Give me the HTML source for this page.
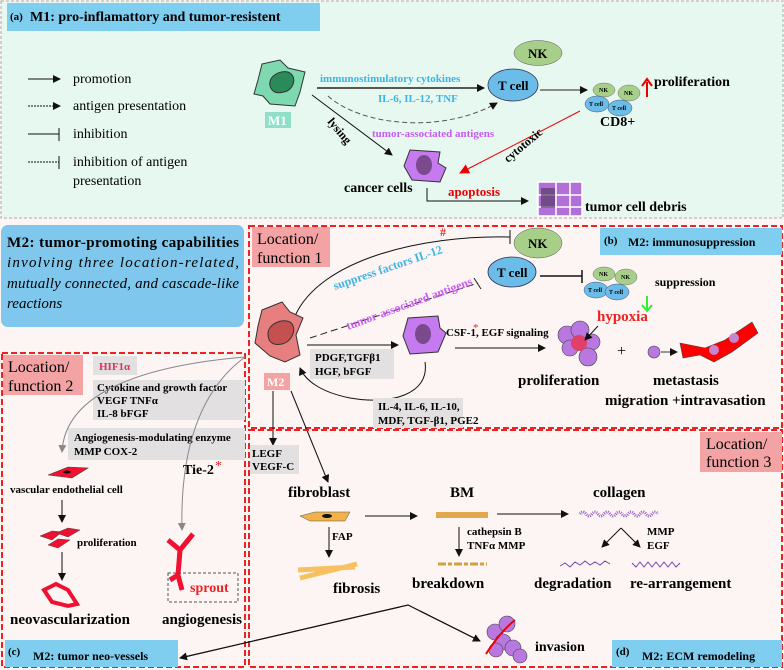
<!DOCTYPE html>
<html><head><meta charset="utf-8"><style>
body{margin:0;padding:0;background:#fdf4f4}
svg{display:block}
text{font-family:"Liberation Serif",serif}
.b{font-weight:bold}
</style></head><body>
<svg width="784" height="670" viewBox="0 0 784 670" xmlns="http://www.w3.org/2000/svg">
<defs>
<marker id="ah" markerWidth="8" markerHeight="8" refX="7" refY="4" orient="auto" markerUnits="userSpaceOnUse"><path d="M0,0 L8,4 L0,8 z" fill="#111"/></marker>
<marker id="ahr" markerWidth="10" markerHeight="10" refX="9" refY="5" orient="auto" markerUnits="userSpaceOnUse"><path d="M0,0 L10,5 L0,10 z" fill="#e00"/></marker>
<marker id="ahg" markerWidth="8" markerHeight="8" refX="7" refY="4" orient="auto" markerUnits="userSpaceOnUse"><path d="M0,0 L8,4 L0,8 z" fill="#888"/></marker>
</defs>
<rect width="784" height="670" fill="#fdf4f4"/>
<!-- Panel a -->
<rect x="1" y="1" width="782" height="217" fill="#e6f8ef" stroke="#aaa" stroke-dasharray="3,2"/>
<rect x="7" y="3" width="313" height="28" fill="#7fcdef"/>
<text x="10" y="20" font-size="11" class="b">(a)</text>
<text x="30" y="21" font-size="14" class="b">M1: pro-inflamattory and tumor-resistent</text>
<!-- legend -->
<line x1="28" y1="79" x2="60" y2="79" stroke="#111" marker-end="url(#ah)"/>
<line x1="28" y1="106" x2="60" y2="106" stroke="#111" stroke-dasharray="2,1" marker-end="url(#ah)"/>
<line x1="28" y1="134" x2="59" y2="134" stroke="#111"/><line x1="59" y1="128" x2="59" y2="141" stroke="#111"/>
<line x1="28" y1="162" x2="59" y2="162" stroke="#111" stroke-dasharray="2,1"/><line x1="59" y1="156" x2="59" y2="169" stroke="#111"/>
<g font-size="14"><text x="73" y="83">promotion</text><text x="73" y="110">antigen presentation</text><text x="73" y="138">inhibition</text><text x="73" y="166">inhibition of antigen</text><text x="73" y="185">presentation</text></g>
<!-- M1 -->
<path d="M262,64 L280,60 L288,68 L305,72 L300,92 L295,106 L270,104 L263,96 L254,94 L258,80 Z" fill="#7fd9b0" stroke="#333"/>
<path d="M270,86 C268,76 280,70 288,72 C298,76 294,90 284,92 C276,94 272,92 270,86Z" fill="#2a8a5a" stroke="#333"/>
<rect x="265" y="112" width="26" height="16" fill="#8fe0c6"/><text x="268" y="125" font-size="13" fill="#fff" class="b">M1</text>
<line x1="317" y1="88" x2="484" y2="88" stroke="#222" stroke-width="1.5" marker-end="url(#ah)"/>
<text x="320" y="82" font-size="11" class="b" fill="#3cb4e6">immunostimulatory cytokines</text>
<text x="378" y="102" font-size="11" class="b" fill="#3cb4e6">IL-6, IL-12, TNF</text>
<ellipse cx="538" cy="53" rx="24" ry="12.5" fill="#a8cf8a" stroke="#555" stroke-width=".5"/>
<text x="528" y="58" font-size="13" class="b">NK</text>
<ellipse cx="513" cy="85" rx="25" ry="16" fill="#6bbce8" stroke="#335" stroke-width=".8"/>
<text x="498" y="90" font-size="13" class="b">T cell</text>
<line x1="540" y1="90" x2="587" y2="90" stroke="#666" stroke-width="1.5" marker-end="url(#ah)"/>
<g font-size="6" class="b">
<ellipse cx="604" cy="90" rx="11" ry="7" fill="#a8cf8a" stroke="#555" stroke-width=".4"/><text x="599" y="92">NK</text>
<ellipse cx="629" cy="93" rx="11" ry="8" fill="#a8cf8a" stroke="#555" stroke-width=".4"/><text x="624" y="95">NK</text>
<ellipse cx="597" cy="104" rx="12" ry="8" fill="#6bbce8" stroke="#335" stroke-width=".4"/><text x="589" y="106">T cell</text>
<ellipse cx="620" cy="108" rx="12" ry="8" fill="#6bbce8" stroke="#335" stroke-width=".4"/><text x="612" y="110">T cell</text>
</g>
<line x1="647" y1="97" x2="647" y2="82" stroke="#e00" stroke-width="2"/><path d="M642,86 L647,79 L652,86" fill="none" stroke="#e00" stroke-width="2"/>
<text x="654" y="86" font-size="14" class="b">proliferation</text>
<text x="600" y="126" font-size="14" class="b">CD8+</text>
<path d="M328,96 C360,125 440,135 497,103" fill="none" stroke="#555" stroke-dasharray="5,3" marker-end="url(#ah)"/>
<line x1="312" y1="95" x2="392" y2="155" stroke="#111" marker-end="url(#ah)"/>
<text transform="translate(327,122) rotate(50)" font-size="12" class="b">lysing</text>
<text x="372" y="137" font-size="11" class="b" fill="#c75cf2">tumor-associated antigens</text>
<path d="M410,150 L440,152 L438,163 L446,168 L440,182 L412,180 L404,166 Z" fill="#c57af0" stroke="#333"/>
<ellipse cx="424" cy="165" rx="8" ry="10" fill="#7a4a8c"/>
<text x="344" y="192" font-size="14" class="b">cancer cells</text>
<line x1="580" y1="111" x2="460" y2="173" stroke="#e00" marker-end="url(#ahr)"/>
<text transform="translate(508,163) rotate(-40)" font-size="12" class="b">cytotoxic</text>
<text x="448" y="196" font-size="13" class="b" fill="#e00">apoptosis</text>
<polyline points="427,188 427,201 528,201" fill="none" stroke="#111" marker-end="url(#ah)"/>
<g stroke="#fff" stroke-width="1.5"><rect x="538" y="182" width="44" height="34" fill="#b070d8"/><line x1="538" y1="195" x2="582" y2="195"/><line x1="556" y1="182" x2="556" y2="216"/><line x1="570" y1="182" x2="570" y2="216"/><line x1="538" y1="207" x2="582" y2="207"/></g>
<rect x="541" y="188" width="14" height="20" fill="#5a3a6a" opacity=".7"/>
<text x="585" y="211" font-size="14" class="b">tumor cell debris</text>

<!-- M2 blue box -->
<rect x="1" y="225" width="243" height="102" rx="7" fill="#7fc7ec"/>
<text x="7" y="247" font-size="15" class="b" textLength="232">M2: tumor-promoting capabilities</text>
<g font-size="15" font-style="italic">
<text x="7" y="267" textLength="232">involving three location-related,</text>
<text x="7" y="288" textLength="232">mutually connected, and cascade-like</text>
<text x="7" y="308">reactions</text></g>

<!-- panel b -->
<rect x="249" y="226" width="533" height="202" fill="none" stroke="#e22" stroke-width="2" stroke-dasharray="6,3"/>
<rect x="252" y="227" width="78" height="40" fill="#f3a3a3"/>
<text x="257" y="244" font-size="16">Location/</text><text x="257" y="263" font-size="16">function 1</text>
<rect x="600" y="228" width="182" height="27" fill="#7fcdef"/>
<text x="604" y="244" font-size="11" class="b">(b)</text><text x="628" y="246" font-size="12" class="b">M2: immunosuppression</text>
<ellipse cx="538" cy="243" rx="24" ry="15" fill="#a8cf8a" stroke="#555" stroke-width=".5"/><text x="528" y="248" font-size="13" class="b">NK</text>
<ellipse cx="512" cy="272" rx="24" ry="15" fill="#6bbce8" stroke="#335" stroke-width=".8"/><text x="497" y="277" font-size="13" class="b">T cell</text>
<path d="M295,316 C320,260 420,235 510,237" fill="none" stroke="#111"/><line x1="510" y1="230" x2="510" y2="244" stroke="#111"/>
<text transform="translate(335,290) rotate(-19)" font-size="12" class="b" fill="#3cb4e6">suppress factors IL-12</text>
<text x="440" y="236" font-size="12" class="b" fill="#e22">#</text>
<line x1="540" y1="276" x2="582" y2="276" stroke="#111" stroke-width="1.5"/><line x1="582" y1="270" x2="582" y2="283" stroke="#111" stroke-width="1.5"/>
<g font-size="6" class="b">
<ellipse cx="604" cy="274" rx="11" ry="7" fill="#a8cf8a" stroke="#555" stroke-width=".4"/><text x="599" y="276">NK</text>
<ellipse cx="626" cy="277" rx="11" ry="8" fill="#a8cf8a" stroke="#555" stroke-width=".4"/><text x="621" y="279">NK</text>
<ellipse cx="596" cy="290" rx="12" ry="8" fill="#6bbce8" stroke="#335" stroke-width=".4"/><text x="588" y="292">T cell</text>
<ellipse cx="617" cy="292" rx="12" ry="8" fill="#6bbce8" stroke="#335" stroke-width=".4"/><text x="609" y="294">T cell</text></g>
<text x="655" y="286" font-size="12" class="b">suppression</text>
<line x1="647" y1="296" x2="647" y2="310" stroke="#3e3" stroke-width="2"/><path d="M642,305 L647,311 L652,305" fill="none" stroke="#3e3" stroke-width="2"/>
<!-- M2 cell -->
<path d="M262,310 L282,302 L290,312 L303,318 L296,335 L300,355 L285,362 L270,356 L255,343 L258,326 Z" fill="#e77f7f" stroke="#333"/>
<path d="M268,334 C268,324 282,318 290,322 C298,328 292,342 282,344 C273,346 268,342 268,334Z" fill="#c55050" stroke="#333"/>
<path d="M310,338 L478,283" fill="none" stroke="#222" stroke-dasharray="7,4"/><line x1="474" y1="278" x2="481" y2="289" stroke="#222"/>
<text transform="translate(348,330) rotate(-20)" font-size="12" class="b" fill="#c75cf2">tumor-associated antigens</text>
<line x1="307" y1="345" x2="398" y2="345" stroke="#111" marker-end="url(#ah)"/>
<rect x="310" y="349" width="84" height="30" fill="#e2e0e0"/>
<text x="315" y="361" font-size="11" class="b">PDGF,TGFβ1</text><text x="315" y="375" font-size="11" class="b">HGF, bFGF</text>
<path d="M408,318 L438,316 L440,328 L446,333 L438,352 L410,354 L403,336 Z" fill="#c57af0" stroke="#333"/>
<ellipse cx="423" cy="334" rx="8" ry="10" fill="#7a4a8c"/>
<text x="446" y="336" font-size="11" class="b">CSF-1, EGF signaling</text><text x="473" y="331" font-size="11" fill="#e22">*</text>
<line x1="455" y1="348" x2="545" y2="348" stroke="#111" marker-end="url(#ah)"/>
<g fill="#b878e0" stroke="#444" stroke-width=".6">
<circle cx="567" cy="335" r="9"/><circle cx="580" cy="330" r="9"/><circle cx="592" cy="342" r="8"/><circle cx="570" cy="348" r="8"/><circle cx="588" cy="357" r="9"/></g>
<circle cx="579" cy="343" r="8" fill="#e0406a"/>
<text x="597" y="321" font-size="15" class="b" fill="#e22">hypoxia</text>
<line x1="598" y1="326" x2="585" y2="340" stroke="#111" marker-end="url(#ah)"/>
<text x="617" y="356" font-size="16">+</text>
<circle cx="654" cy="352" r="6" fill="#b878e0" stroke="#444" stroke-width=".6"/>
<line x1="661" y1="352" x2="677" y2="352" stroke="#333" marker-end="url(#ah)"/>
<path d="M680,343 L705,348 L725,340 L752,322 L758,333 L732,352 L714,362 L700,355 L683,358 Z" fill="#f00" stroke="#444" stroke-width=".6"/>
<circle cx="714" cy="350" r="5" fill="#c884d0"/><circle cx="734" cy="338" r="5" fill="#c884d0"/>
<text x="518" y="385" font-size="15" class="b">proliferation</text>
<text x="653" y="385" font-size="15" class="b">metastasis</text>
<text x="605" y="405" font-size="15" class="b">migration +intravasation</text>
<path d="M425,362 C430,395 390,405 350,398 C320,392 305,380 300,368" fill="none" stroke="#111" marker-end="url(#ah)"/>
<rect x="373" y="398" width="90" height="30" fill="#e2e0e0"/>
<text x="378" y="410" font-size="11" class="b">IL-4, IL-6, IL-10,</text><text x="378" y="424" font-size="11" class="b">MDF, TGF-β1, PGE2</text>
<rect x="264" y="373" width="26" height="17" fill="#f3a3a3"/><text x="267" y="386" font-size="12" fill="#fff" class="b">M2</text>
<line x1="273" y1="391" x2="273" y2="445" stroke="#111" marker-end="url(#ah)"/>
<line x1="291" y1="391" x2="328" y2="482" stroke="#111" marker-end="url(#ah)"/>

<!-- panel c -->
<rect x="2" y="353" width="243" height="314" fill="none" stroke="#e22" stroke-width="2" stroke-dasharray="6,3"/>
<rect x="3" y="355" width="80" height="40" fill="#f3a3a3"/>
<text x="8" y="372" font-size="16">Location/</text><text x="8" y="391" font-size="16">function 2</text>
<rect x="93" y="356" width="44" height="19" fill="#e2e0e0"/><text x="99" y="370" font-size="11" class="b" fill="#e0305a">HIF1α</text>
<rect x="93" y="380" width="152" height="40" fill="#e2e0e0"/>
<text x="97" y="391" font-size="11" class="b">Cytokine and  growth factor</text><text x="97" y="404" font-size="11" class="b">VEGF  TNFα</text><text x="97" y="417" font-size="11" class="b">IL-8  bFGF</text>
<rect x="68" y="428" width="177" height="32" fill="#e2e0e0"/>
<text x="74" y="441" font-size="11" class="b">Angiogenesis-modulating enzyme</text><text x="74" y="455" font-size="11" class="b">MMP   COX-2</text>
<path d="M245,357 C150,365 65,390 62,452" fill="none" stroke="#888" marker-end="url(#ahg)"/>
<path d="M245,357 C200,390 180,450 182,530" fill="none" stroke="#888" marker-end="url(#ahg)"/>
<text x="183" y="474" font-size="14" class="b">Tie-2</text><text x="215" y="470" font-size="14" fill="#e22">*</text>
<path d="M48,475 L68,467 L88,468 L72,478 Z" fill="#f01030" stroke="#444" stroke-width=".6"/><ellipse cx="67" cy="472" rx="4" ry="1.5" fill="#111"/>
<text x="10" y="493" font-size="11" class="b">vascular endothelial cell</text>
<line x1="62" y1="500" x2="62" y2="522" stroke="#111" marker-end="url(#ah)"/>
<g fill="#f01030" stroke="#444" stroke-width=".5"><path d="M40,536 L52,531 L62,532 L52,540Z"/><path d="M56,533 L68,528 L80,530 L68,537Z"/><path d="M48,545 L58,539 L70,540 L58,548Z"/></g>
<text x="77" y="546" font-size="11" class="b">proliferation</text>
<line x1="62" y1="552" x2="62" y2="580" stroke="#111" marker-end="url(#ah)"/>
<path d="M44,590 L56,584 L68,590 L77,604 L68,606 L52,602 Z" fill="none" stroke="#f01030" stroke-width="4"/>
<text x="10" y="624" font-size="15" class="b">neovascularization</text>
<path d="M168,540 L180,550 L193,534 M180,550 L178,575 L170,580 M178,575 L182,590" fill="none" stroke="#f01030" stroke-width="5"/>
<rect x="168" y="573" width="70" height="29" fill="none" stroke="#555" stroke-dasharray="3,2"/>
<text x="190" y="592" font-size="14" class="b" fill="#e22">sprout</text>
<text x="162" y="624" font-size="15" class="b">angiogenesis</text>
<rect x="5" y="640" width="173" height="27" fill="#7fcdef"/>
<text x="8" y="655" font-size="11" class="b">(c)</text><text x="33" y="660" font-size="12" class="b">M2: tumor neo-vessels</text>

<!-- panel d -->
<rect x="249" y="430" width="533" height="237" fill="none" stroke="#e22" stroke-width="2" stroke-dasharray="6,3"/>
<rect x="700" y="432" width="82" height="40" fill="#f3a3a3"/>
<text x="706" y="449" font-size="16">Location/</text><text x="706" y="467" font-size="16">function 3</text>
<rect x="250" y="445" width="49" height="29" fill="#e2e0e0"/>
<text x="252" y="457" font-size="11" class="b">LEGF</text><text x="252" y="470" font-size="11" class="b">VEGF-C</text>
<g font-size="15" class="b"><text x="288" y="497">fibroblast</text><text x="450" y="497">BM</text><text x="593" y="497">collagen</text>
<text x="333" y="593">fibrosis</text><text x="412" y="588">breakdown</text><text x="534" y="588">degradation</text><text x="630" y="588">re-arrangement</text></g>
<path d="M300,516 L315,512 L350,512 L345,521 L310,521 Z" fill="#f2b24a" stroke="#555" stroke-width=".5"/><ellipse cx="327" cy="516" rx="5" ry="2" fill="#111"/>
<line x1="365" y1="516" x2="417" y2="516" stroke="#111" marker-end="url(#ah)"/>
<rect x="436" y="512" width="52" height="6" fill="#e2a850"/>
<line x1="497" y1="514" x2="568" y2="514" stroke="#111" marker-end="url(#ah)"/>
<path d="M580,514 q3,-4 6,0 t6,0 t6,0 t6,0 t6,0 t6,0 t6,0 t6,0 t6,0 t6,0 t6,0 t6,0 t6,0" fill="none" stroke="#9a66cc" stroke-width="3" stroke-dasharray="1,1"/>
<line x1="329" y1="527" x2="329" y2="557" stroke="#111" marker-end="url(#ah)"/><text x="332" y="540" font-size="11" class="b">FAP</text>
<path d="M298,570 L355,567 M300,578 L357,564" stroke="#f7c060" stroke-width="5"/>
<line x1="459" y1="527" x2="459" y2="556" stroke="#111" marker-end="url(#ah)"/>
<text x="467" y="535" font-size="11" class="b">cathepsin B</text><text x="467" y="549" font-size="11" class="b">TNFα    MMP</text>
<line x1="438" y1="564" x2="487" y2="564" stroke="#d4a040" stroke-width="3" stroke-dasharray="8,2,4,2"/>
<line x1="621" y1="528" x2="602" y2="547" stroke="#111" marker-end="url(#ah)"/><line x1="621" y1="528" x2="640" y2="547" stroke="#111" marker-end="url(#ah)"/>
<text x="647" y="535" font-size="11" class="b">MMP</text><text x="647" y="549" font-size="11" class="b">EGF</text>
<path d="M560,566 l5,-3 5,4 5,-5 5,3 5,-4 5,4 5,-3 5,3 5,-4 5,3" fill="none" stroke="#7a44aa" stroke-width="1"/>
<path d="M632,563 l4,4 4,-5 4,5 4,-5 4,5 4,-5 4,5 4,-5 4,5 4,-5 4,5 4,-4" fill="none" stroke="#7a44aa" stroke-width="1"/>
<polyline points="180,658 408,605 478,640" fill="none" stroke="#111" stroke-width="1.2"/>
<line x1="400" y1="607" x2="180" y2="658" stroke="#111" marker-end="url(#ah)"/>
<line x1="420" y1="611" x2="480" y2="641" stroke="#111" marker-end="url(#ah)"/>
<g fill="#b878e0" stroke="#444" stroke-width=".6"><circle cx="495" cy="632" r="8"/><circle cx="507" cy="624" r="8"/><circle cx="503" cy="642" r="8"/><circle cx="513" cy="648" r="8"/><circle cx="520" cy="656" r="7"/><circle cx="496" cy="650" r="7"/></g>
<path d="M486,654 C495,640 505,628 515,620" fill="none" stroke="#e00" stroke-width="2"/>
<text x="535" y="651" font-size="14" class="b">invasion</text>
<rect x="612" y="640" width="170" height="27" fill="#7fcdef"/>
<text x="616" y="655" font-size="11" class="b">(d)</text><text x="642" y="660" font-size="12" class="b">M2: ECM remodeling</text>
</svg>
</body></html>
